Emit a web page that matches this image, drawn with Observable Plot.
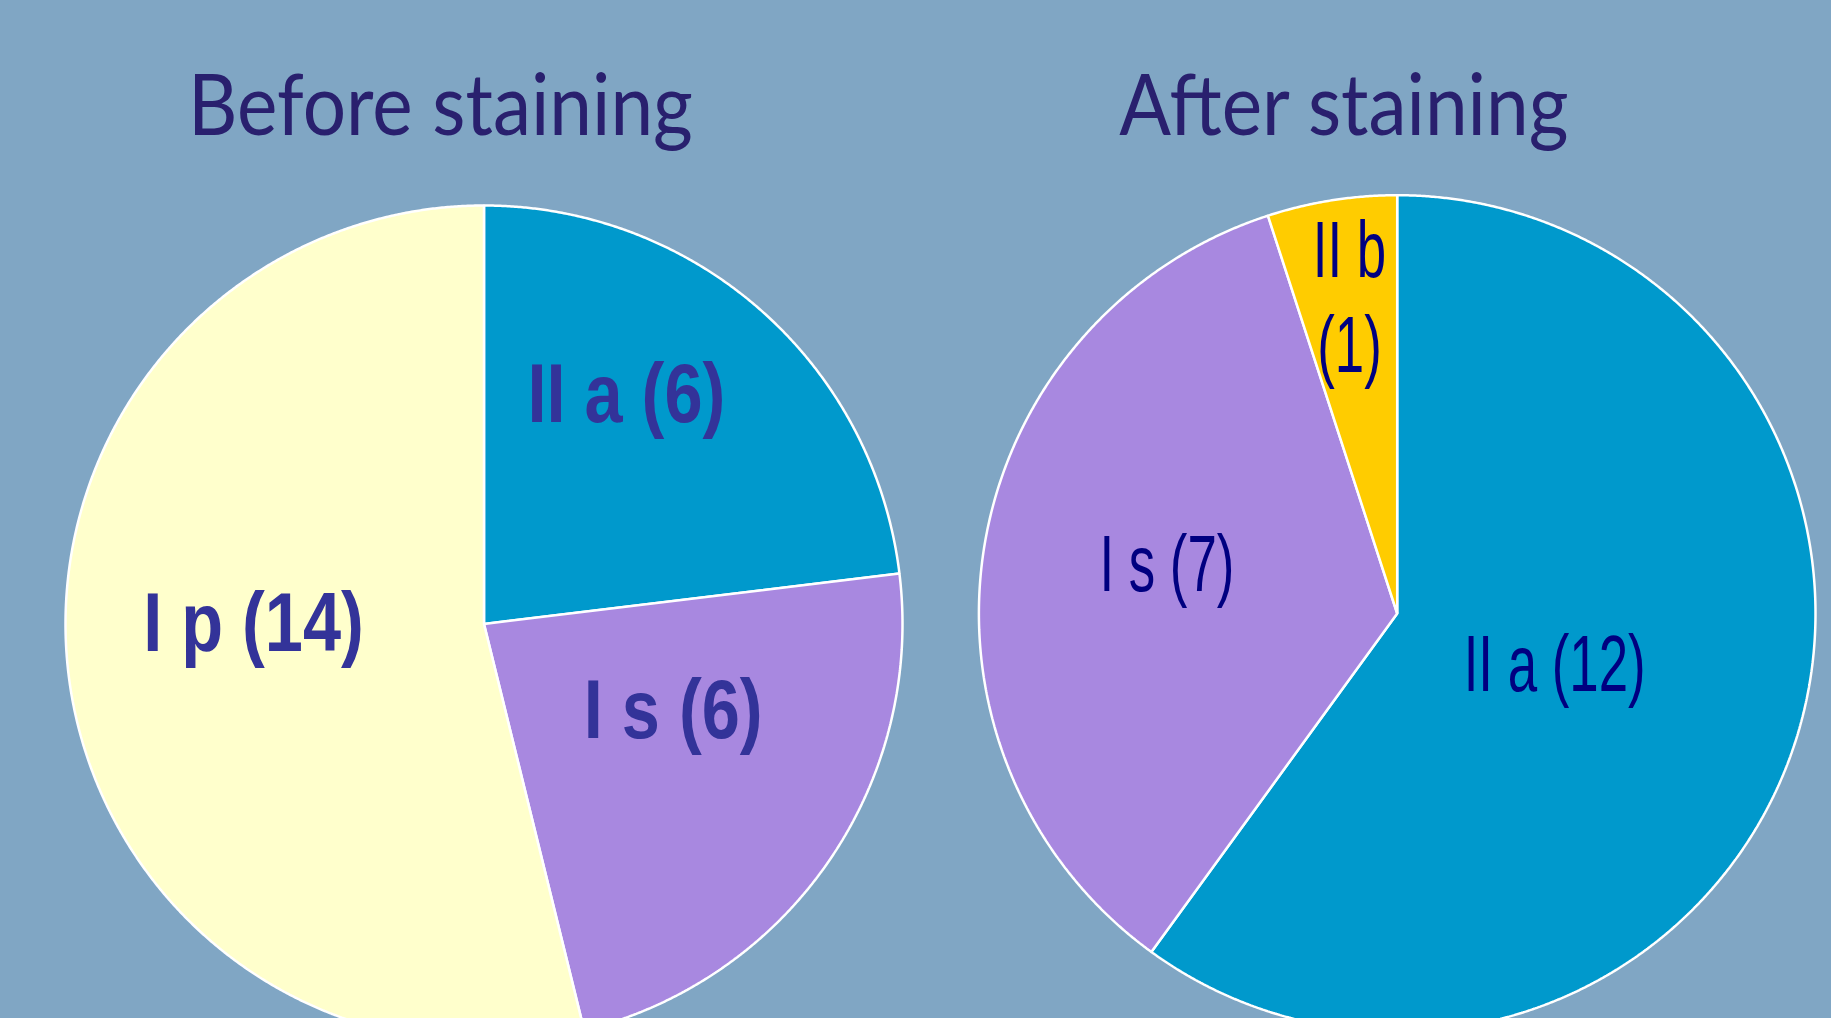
<!DOCTYPE html>
<html>
<head>
<meta charset="utf-8">
<script src="https://cdn.jsdelivr.net/npm/d3@7"></script>
<script src="https://cdn.jsdelivr.net/npm/@observablehq/plot@0.6"></script>
<style>
  html, body { margin: 0; padding: 0; background: #80A6C4; overflow: hidden; }
  #stage { position: relative; width: 1831px; height: 1018px; background: #80A6C4; overflow: hidden; display: flex; }
  #stage svg { display: block; flex: none; }
</style>
</head>
<body>
<div id="stage"></div>
<script>
// ---- data ----
const beforeCategories = ["II a", "I s", "I p"];
const beforeValues = [6, 6, 14];
const afterCategories = ["II a", "I s", "II b"];
const afterValues = [12, 7, 1];
const chartTitles = ["Before staining", "After staining"];
const colorDomain = ["II a", "I s", "I p", "II b"];
const colorRange = ["#0099CC", "#A888E0", "#FFFFCC", "#FFCC00"];

// ---- layout / style ----
const panels = [
  {
    categories: beforeCategories, values: beforeValues, title: chartTitles[0],
    width: 940, cx: 483.5, cy: 623.5, r: 418.5, titleX: 440,
    labelTurn: [-10.2, -11.1, 8.1], labelRadius: [0.654, 0.493, 0.551],
    labelFont: "'Liberation Sans', Arial, sans-serif", labelWeight: "bold",
    labelSize: 84, labelColor: "#333399", labelCondense: 0.815
  },
  {
    categories: afterCategories, values: afterValues, title: chartTitles[1],
    width: 891, cx: 456.7, cy: 613, r: 418.3, titleX: 403.4,
    labelTurn: [-1.3, 4, 0.5], labelRadius: [0.393, 0.565, 0.772],
    labelFont: "'Liberation Sans', Arial, sans-serif", labelWeight: "normal",
    labelSize: 80, labelColor: "#000080", labelCondense: 0.66
  }
];
const HEIGHT = 1018;
const TITLE_CONDENSE = 0.89;

function makePie(p) {
  const rows = p.categories.map((c, i) => ({category: c, value: p.values[i]}));
  const total = d3.sum(p.values);
  const arcs = d3.pie().sort(null).value((d) => d.value)(rows);

  // slice outlines (center + arc samples) in unit-circle coordinates
  const outline = [];
  for (const a of arcs) {
    outline.push({category: a.data.category, x: 0, y: 0});
    const n = Math.max(2, Math.ceil((a.endAngle - a.startAngle) / (Math.PI / 720)));
    for (let k = 0; k <= n; ++k) {
      const t = a.startAngle + (a.endAngle - a.startAngle) * k / n;
      outline.push({category: a.data.category, x: Math.sin(t), y: Math.cos(t)});
    }
  }

  const labels = arcs.map((a, i) => {
    const mid = (a.startAngle + a.endAngle) / 2 + p.labelTurn[i] * Math.PI / 180;
    const rr = p.labelRadius[i];
    const share = a.data.value / total;
    const text = share < 0.1 ? `${a.data.category}\n(${a.data.value})` : `${a.data.category} (${a.data.value})`;
    return {text, x: rr * Math.sin(mid), y: rr * Math.cos(mid)};
  });

  return Plot.plot({
    width: p.width,
    height: HEIGHT,
    margin: 0,
    style: {background: "transparent", overflow: "hidden"},
    x: {domain: [-1, 1], range: [p.cx - p.r, p.cx + p.r], axis: null},
    y: {domain: [-1, 1], range: [p.cy + p.r, p.cy - p.r], axis: null},
    color: {domain: colorDomain, range: colorRange},
    marks: [
      Plot.line(outline, {
        x: "x", y: "y", z: "category", fill: "category",
        stroke: "white", strokeWidth: 2.5, curve: "linear-closed", strokeLinejoin: "miter"
      }),
      Plot.text(labels, {
        x: "x", y: "y", text: "text",
        fontFamily: p.labelFont, fontWeight: p.labelWeight, fontSize: p.labelSize,
        fill: p.labelColor, textAnchor: "middle", lineAnchor: "middle", lineHeight: 1.19
      }),
      Plot.text([p.title], {
        frameAnchor: "top-left", dx: p.titleX, dy: 134, text: (d) => d,
        textAnchor: "middle", lineAnchor: "bottom",
        fontFamily: "Lato, 'Open Sans', sans-serif", fontSize: 86, fill: "#29206E"
      })
    ]
  });
}

function condense(textEl, factor) {
  const spans = textEl.querySelectorAll("tspan");
  const targets = spans.length ? Array.from(spans) : [textEl];
  for (const t of targets) {
    const L = t.getComputedTextLength();
    if (L > 0) {
      t.setAttribute("textLength", (L * factor).toFixed(2));
      t.setAttribute("lengthAdjust", "spacingAndGlyphs");
    }
  }
}

const stage = document.getElementById("stage");
for (const p of panels) {
  const svg = makePie(p);
  stage.appendChild(svg);
  const groups = svg.querySelectorAll('g[aria-label="text"]');
  if (groups[0]) groups[0].querySelectorAll("text").forEach((t) => condense(t, p.labelCondense));
  if (groups[1]) groups[1].querySelectorAll("text").forEach((t) => condense(t, TITLE_CONDENSE));
}
</script>
</body>
</html>
